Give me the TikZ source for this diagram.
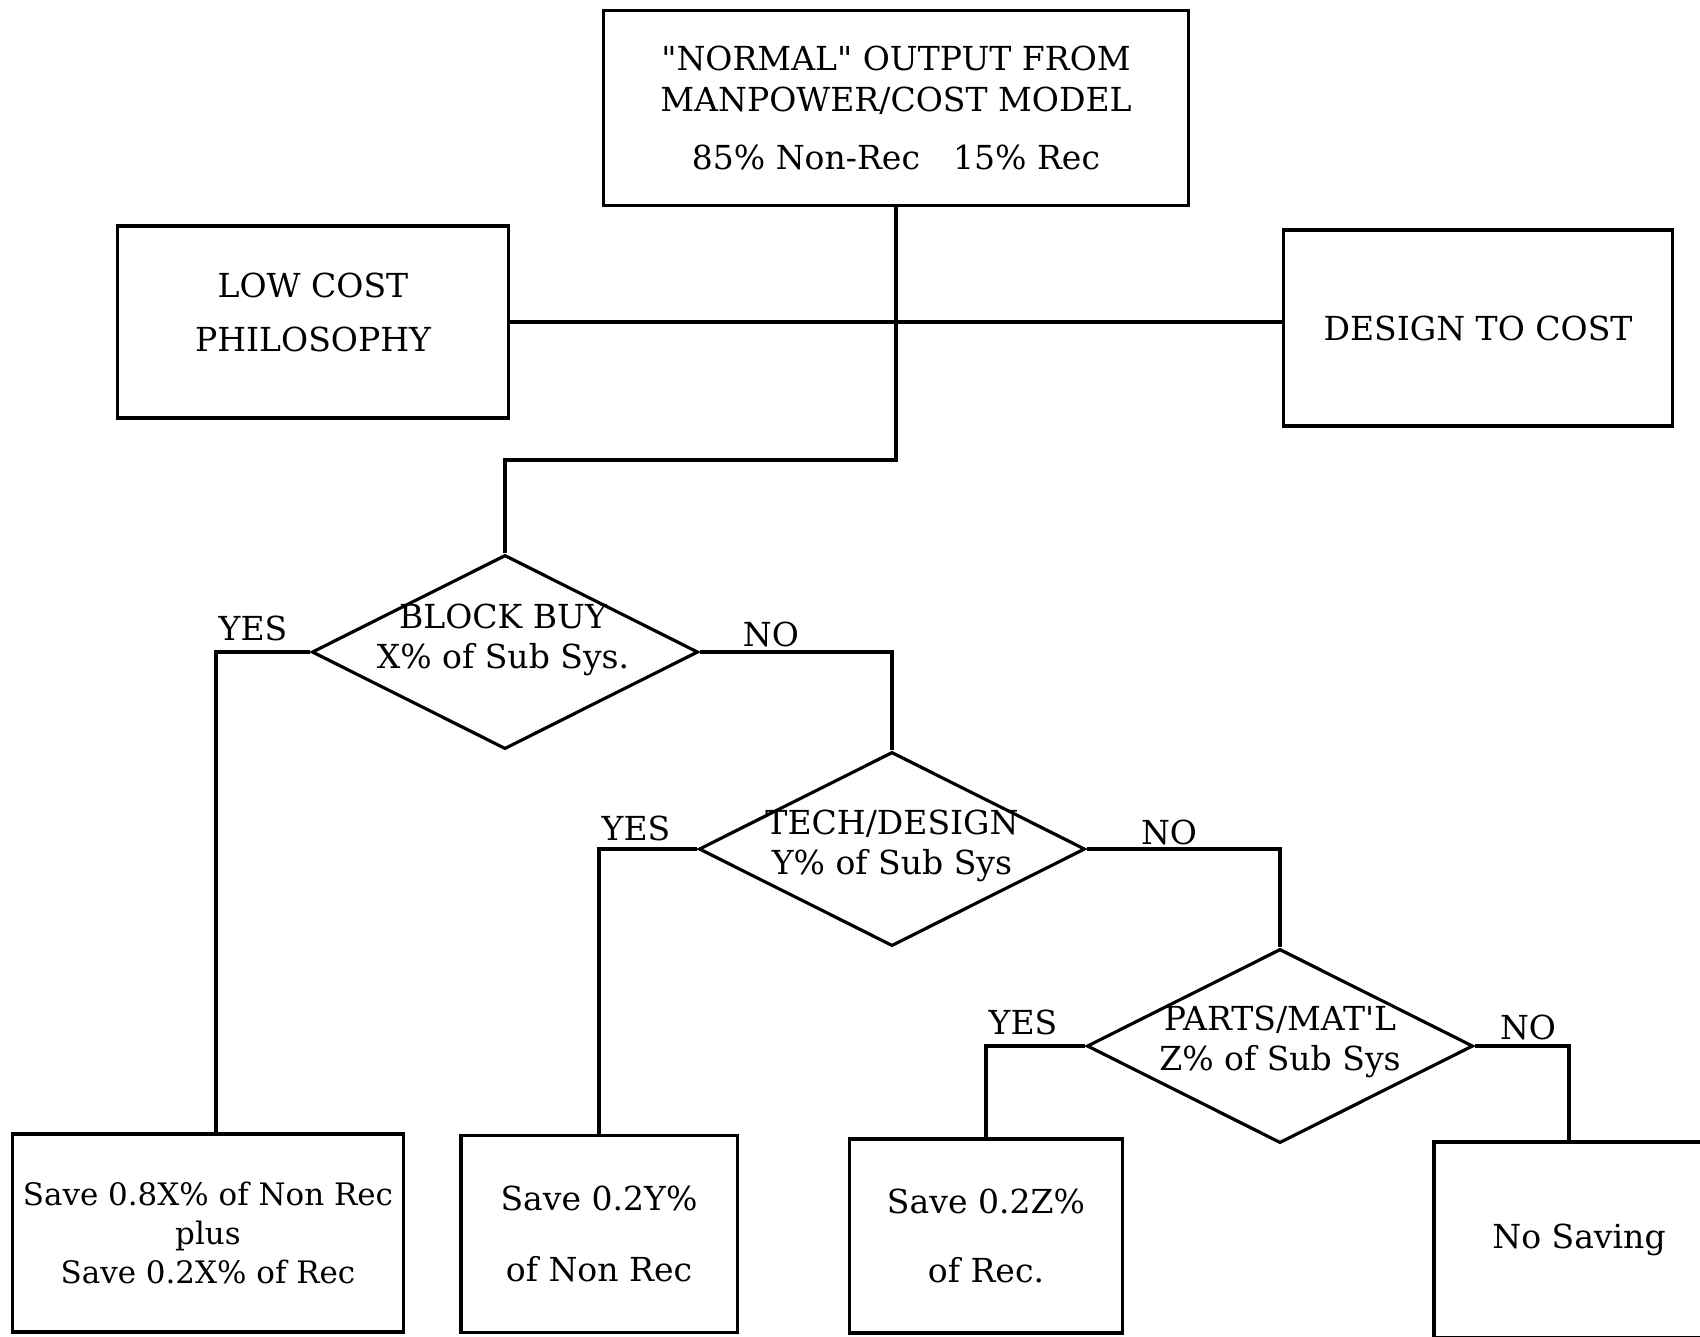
\documentclass[tikz,border=0pt]{standalone}
\usepackage{fontspec}
\setmainfont{DejaVu Serif}[Ligatures=TeXOff]
\usetikzlibrary{shapes.geometric}

\tikzset{
  box/.style={draw, rectangle, line width=0.9pt, align=center, inner sep=0pt},
  decision/.style={draw, diamond, line width=0.9pt, inner sep=0pt, minimum width=3.86cm, minimum height=1.94cm},
  flow/.style={line width=0.9pt}
}

\begin{document}
\begin{tikzpicture}[x=0.01cm, y=-0.01cm, font=\fontsize{9.4}{11.5}\selectfont]
		\clip (0,0) rectangle (1700,1336);
		% Boxes
		\node[box, minimum width=5.85cm, minimum height=1.95cm] (model) at (896,108) {"NORMAL" OUTPUT FROM\\MANPOWER/COST MODEL\\[5pt]85\% Non-Rec\quad 15\% Rec};
		\node[box, minimum width=3.9cm, minimum height=1.92cm] (philosophy) at (313,322) {LOW COST\\[4pt]PHILOSOPHY\\[-6pt]\mbox{}};
		\node[box, minimum width=3.89cm, minimum height=1.96cm] (dtc) at (1478,328) {DESIGN TO COST};
		
		% Decisions
		\node[decision] (blockbuy) at (505,652) {};
		\node[decision] (techdesign) at (892,849) {};
		\node[decision] (partsmatl) at (1280,1046) {};
		\node[align=center] (blockbuytext) at (503,640) {BLOCK BUY\\X\% of Sub Sys.};
		\node[align=center] (techdesigntext) at (892,846) {TECH/DESIGN\\Y\% of Sub Sys};
		\node[align=center] (partsmatltext) at (1280,1042) {PARTS/MAT'L\\Z\% of Sub Sys};
		
		% Savings
		\node[box, minimum width=3.91cm, minimum height=1.98cm, font=\fontsize{8.8}{11}\selectfont] (savex) at (208,1233) {Save 0.8X\% of Non Rec\\plus\\Save 0.2X\% of Rec};
		\node[box, minimum width=2.76cm, minimum height=1.97cm] (savey) at (599,1234) {Save 0.2Y\%\\[8.5pt]of Non Rec};
		\node[box, minimum width=2.73cm, minimum height=1.94cm] (savez) at (986,1236) {Save 0.2Z\%\\[8pt]of Rec.};
		\node[box, minimum width=2.70cm, minimum height=1.96cm] (nosave) at (1569,1240) {\hspace{0.2cm}No Saving};
		
		% Answers
		\node (yes1) at (253,628) {YES};
		\node (no1) at (771,634) {NO};
		\node (yes2) at (636,828) {YES};
		\node (no2) at (1169,832) {NO};
		\node (yes3) at (1023,1022) {YES};
		\node (no3) at (1528,1027) {NO};
		
		% Connections
		\coordinate (split) at (505,460);
		\draw[flow] (model.south) |- (split) -- (blockbuy.north);
		\draw[flow] (philosophy.east) -- (philosophy.east -| dtc.west);
		
		\draw[flow] (blockbuy.west) -| ([xshift=0.08cm]savex.north);
		\draw[flow] (blockbuy.east) -| (techdesign.north);
		\draw[flow] (techdesign.west) -| (savey.north);
		\draw[flow] (techdesign.east) -| (partsmatl.north);
		\draw[flow] (partsmatl.west) -| (savez.north);
		\draw[flow] (partsmatl.east) -| (nosave.north);
	\end{tikzpicture}
\end{document}
